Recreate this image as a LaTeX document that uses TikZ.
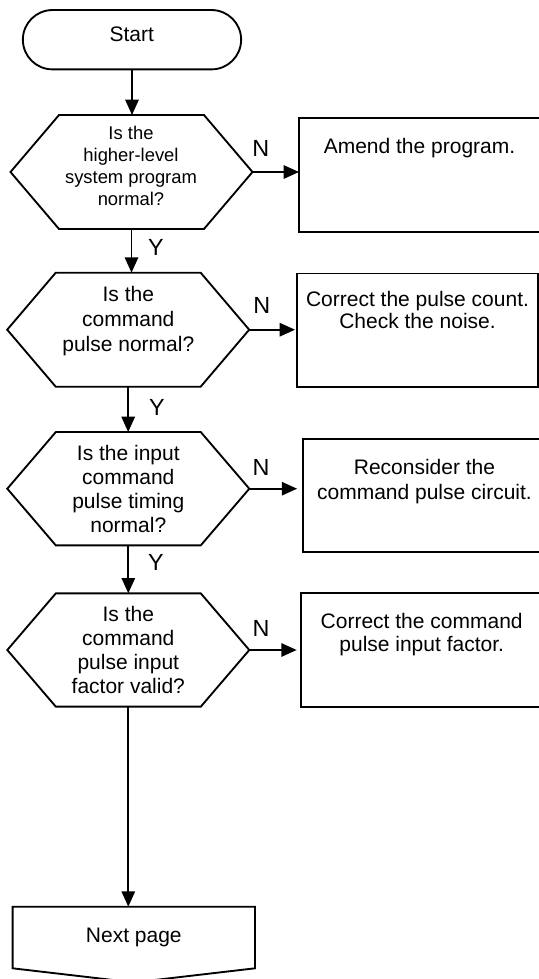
\documentclass[tikz,border=0pt]{standalone}
\usepackage{fontspec}
\setmainfont{Liberation Sans}
\usetikzlibrary{arrows.meta}
\newcommand\drawhex[1]{\draw ([xshift=36.4pt]#1.north west) -- ([xshift=-36.4pt]#1.north east) -- (#1.east) -- ([xshift=-36.4pt]#1.south east) -- ([xshift=36.4pt]#1.south west) -- (#1.west) -- cycle;}
\begin{document}
\begin{tikzpicture}[x=0.75pt,y=-0.75pt,
  line width=1.4pt,
  arr/.style={-{Triangle[length=11.5pt,width=10pt]}},
  shapebox/.style={inner sep=0pt, outer sep=0pt},
  txt/.style={inner sep=0pt, align=center, font=\fontsize{15.75}{18.75}\selectfont},
  lab/.style={inner sep=0pt, font=\fontsize{17.5}{20}\selectfont}]
\useasboundingbox (0,0) rectangle (539,979);
\clip (0,0) rectangle (539,979);
% Start
\node[shapebox, draw, rounded corners=22.2pt, minimum width=163.7pt, minimum height=44.5pt] (start) at (132,39.7) {};
\node[txt] (startt) at (131.7,34.4) {Start};
% hexagons
\node[shapebox, minimum width=181.5pt, minimum height=85.5pt] (h1) at (131.5,172) {};
\drawhex{h1}
\node[txt, font=\fontsize{13.8}{16.5}\selectfont] (h1t) at (131,165.8) {Is the\\higher-level\\system program\\normal?};
\node[shapebox, minimum width=181.5pt, minimum height=85.5pt] (h2) at (128.2,329.7) {};
\drawhex{h2}
\node[txt] (h2t) at (128.3,321.3) {Is the\\command\\pulse normal?};
\node[shapebox, minimum width=181.5pt, minimum height=85pt] (h3) at (128.3,488.7) {};
\drawhex{h3}
\node[txt, font=\fontsize{15.75}{18}\selectfont] (h3t) at (128.3,488.5) {Is the input\\command\\pulse timing\\normal?};
\node[shapebox, minimum width=181.5pt, minimum height=85pt] (h4) at (128.3,650) {};
\drawhex{h4}
\node[txt, font=\fontsize{15.75}{17.9}\selectfont] (h4t) at (128.3,649.9) {Is the\\command\\pulse input\\factor valid?};
% boxes
\node[shapebox, draw, minimum width=184.5pt, minimum height=85pt] (b1) at (422,175) {};
\node[txt] (b1t) at (419.5,147.9) {Amend the program.};
\node[shapebox, draw, minimum width=181pt, minimum height=84.9pt] (b2) at (417.7,330.1) {};
\node[txt, font=\fontsize{15.75}{16.2}\selectfont] (b2t) at (417.5,309.8) {Correct the pulse count.\\Check the noise.};
\node[shapebox, draw, minimum width=182pt, minimum height=85pt] (b3) at (424.7,495.7) {};
\node[txt] (b3t) at (424.5,482) {Reconsider the\\command pulse circuit.};
\node[shapebox, draw, minimum width=181.5pt, minimum height=85pt] (b4) at (421.7,650) {};
\node[txt, font=\fontsize{15.75}{17.55}\selectfont] (b4t) at (421.7,634.6) {Correct the command\\pulse input factor.};
% next page
\node[shapebox, minimum width=181.7pt, minimum height=46.2pt] (np) at (133.8,937.5) {};
\draw (np.south west) -- (np.north west) -- (np.north east) -- (np.south east) -- ([yshift=-10.6pt]np.south) -- cycle;
\node[txt] (npt) at (133.8,937.3) {Next page};
% labels
\node[lab] (n1) at (260.7,148) {N};
\node[lab] (n2) at (261.7,305) {N};
\node[lab] (n3) at (261,467) {N};
\node[lab] (n4) at (261,628) {N};
\node[lab] (y1) at (156,247.5) {Y};
\node[lab] (y2) at (157,407) {Y};
\node[lab] (y3) at (156,562) {Y};
% connectors
\draw[arr] (start.south) -- (start.south |- h1.north);
\draw[arr] (h1.south) -- (h1.south |- h2.north);
\draw[arr] (h2.south) -- (h2.south |- h3.north);
\draw[arr] (h3.south) -- (h3.south |- h4.north);
\draw[arr] (h4.south) -- (h4.south |- np.north);
\draw[arr] (h1.east) -- (h1.east -| b1.west);
\draw[arr, shorten >=1.5pt] (h2.east) -- (h2.east -| b2.west);
\draw[arr, shorten >=4.7pt] (h3.east) -- (h3.east -| b3.west);
\draw[arr, shorten >=3pt] (h4.east) -- (h4.east -| b4.west);
\end{tikzpicture}
\end{document}
